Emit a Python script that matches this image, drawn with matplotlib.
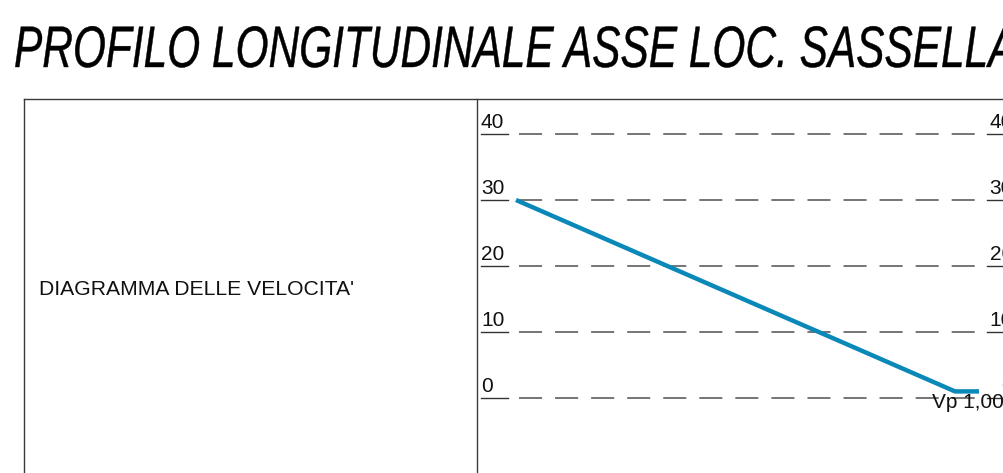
import matplotlib
matplotlib.use("Agg")
import matplotlib.pyplot as plt
from matplotlib.textpath import TextPath
from matplotlib.patches import PathPatch
from matplotlib.font_manager import FontProperties
from matplotlib.transforms import Affine2D, IdentityTransform

# ---- data ----
title = "PROFILO LONGITUDINALE ASSE LOC. SASSELLA"
row_label = "DIAGRAMMA DELLE VELOCITA'"
grid_levels = [0, 10, 20, 30, 40]
grid_labels = ["0", "10", "20", "30", "40"]
vel_dist = [39, 478, 502]        # progressive distance (arbitrary units)
vel_values = [30.0, 1.0, 1.0]     # velocity values
vp_label = "Vp 1,00"

W, H = 1004, 473
fig = plt.figure(figsize=(W / 100, H / 100), dpi=100)
ax = fig.add_axes([0, 0, 1, 1])
ax.set_axis_off()

ppu = 6.6
y0 = 398
ax.set_ylim(-(H - y0) / ppu, y0 / ppu)
ax.set_xlim(-477, W - 477)

# condensed italic title (horizontally scaled text path)
fp = FontProperties(family="Liberation Sans", style="italic")
tp = TextPath((0, 0), title, size=58.5, prop=fp)
tr = Affine2D().scale(0.725, 1.0).translate(14, H - 67)
fig.add_artist(PathPatch(tr.transform_path(tp), transform=IdentityTransform(),
                         facecolor="black", edgecolor="black", lw=0.3))

frame_col = "#3a3a3a"
def fline(x1, y1, x2, y2):
    fig.add_artist(plt.Line2D([x1 / W, x2 / W], [1 - y1 / H, 1 - y2 / H],
                              color=frame_col, lw=1.0, transform=fig.transFigure))
fline(24, 99, W, 99)
fline(24, 99, 24, H)
fline(477, 99, 477, H)

fig.text(39 / W, 1 - 289 / H, row_label, fontsize=15.2, family="Liberation Sans",
         ha="left", va="center", color="#111111")

for lv, lab in zip(grid_levels, grid_labels):
    ax.hlines(lv, 42, 499, colors="#505050", lw=1.1, linestyles=(0, (15.1, 8.5)))
    ax.plot([4, 31], [lv, lv], color="#333333", lw=1.0)
    ax.text(4, lv + 0.25, lab, fontsize=15, family="Liberation Sans",
            ha="left", va="bottom", color="#111111")
    ax.plot([510, 540], [lv, lv], color="#333333", lw=1.0)
    ax.text(536, lv + 0.25, lab, fontsize=15, family="Liberation Sans",
            ha="right", va="bottom", color="#111111")

ax.plot(vel_dist, vel_values, color="#0a88b8", lw=3.2, solid_capstyle="butt")
ax.text(455, vel_values[-1] - 0.2, vp_label, fontsize=15, family="Liberation Sans",
        ha="left", va="top", color="#111111")

fig.savefig("out.png", dpi=100)
